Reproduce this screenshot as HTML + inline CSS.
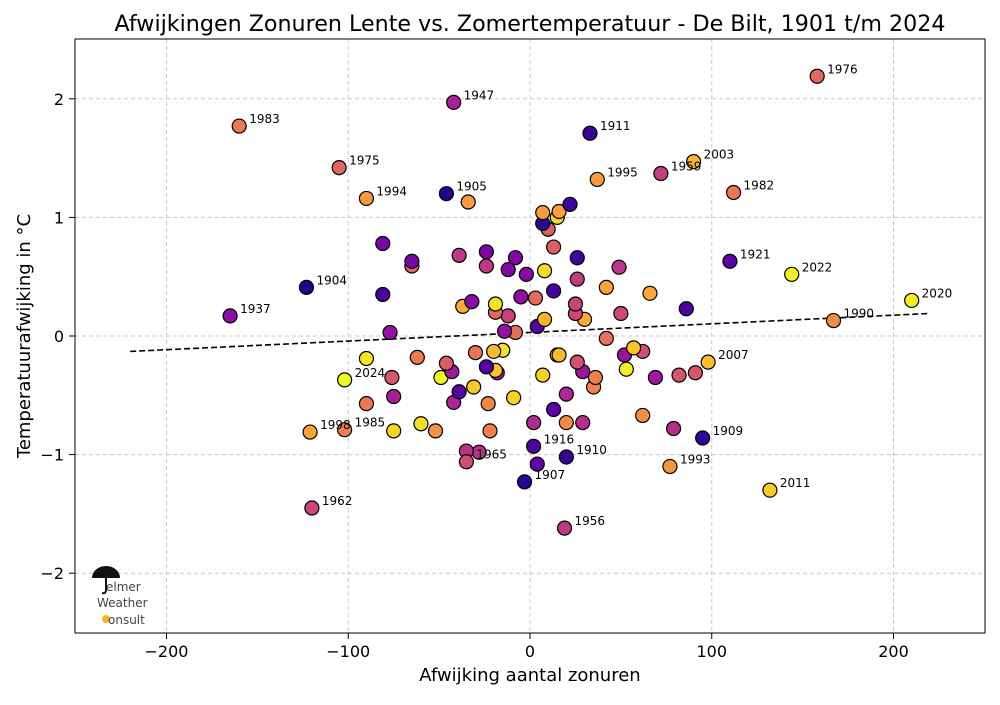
<!DOCTYPE html>
<html><head><meta charset="utf-8"><style>
body{margin:0;background:#fff;font-family:"Liberation Sans","DejaVu Sans",sans-serif}
svg text{font-family:"DejaVu Sans","Liberation Sans",sans-serif}
</style></head><body>
<svg id="chart" width="1000" height="700" xmlns="http://www.w3.org/2000/svg">
<rect width="1000" height="700" fill="#fff"/>
<text x="530" y="31" font-size="22.2" text-anchor="middle">Afwijkingen Zonuren Lente vs. Zomertemperatuur - De Bilt, 1901 t/m 2024</text>
<g id="grid"></g>
<g id="axes"></g>
<line id="trend" stroke="#000" stroke-width="1.6" stroke-dasharray="6,3"/>
<g id="points"></g>
<g id="labels"></g>
<rect x="75" y="39" width="910" height="594" fill="none" stroke="#000" stroke-width="1"/>
<text x="530" y="681" font-size="18" text-anchor="middle">Afwijking aantal zonuren</text>
<text transform="translate(30,336) rotate(-90)" font-size="18" text-anchor="middle">Temperatuurafwijking in °C</text>
<g>
<path d="M92,578 A14,12 0 0 1 120,578 Z" fill="#111"/>
<line x1="106" y1="566" x2="106" y2="590" stroke="#111" stroke-width="2"/>
<path d="M106,590 q0,4 -4,3" fill="none" stroke="#111" stroke-width="2"/>
<text x="106" y="591" font-size="12" fill="#444">elmer</text>
<text x="97" y="607" font-size="12" fill="#444">Weather</text>
<circle cx="106" cy="619" r="4" fill="#f5b820"/>
<text x="108" y="624" font-size="12" fill="#444">onsult</text>
</g>
</svg>
<script>
const xs=[158,-160,-42,33,-105,37,72,90,112,-90,-46,110,144,-123,210,-165,167,-102,98,-121,-102,95,2,-35,20,77,-3,132,-120,19,
-34,22,7,16,15,7,10,13,26,49,-81,-65,-65,-39,-24,-24,-8,-12,-2,8,26,13,42,66,-81,-32,-37,-19,-19,-12,-5,3,25,25,30,50,86,8,4,-77,-14,-8,42,-30,-20,-15,-62,16,15,57,52,62,26,29,36,35,53,69,82,91,-76,-46,-43,-49,-24,-19,-18,7,-75,-39,-42,-31,-23,-9,20,13,2,20,29,62,79,-75,-60,-52,-22,-35,-28,4,-90,-90];
const ys=[2.19,1.77,1.97,1.71,1.42,1.32,1.37,1.47,1.21,1.16,1.20,0.63,0.52,0.41,0.30,0.17,0.13,-0.37,-0.22,-0.81,-0.79,-0.86,-0.93,-1.06,-1.02,-1.10,-1.23,-1.30,-1.45,-1.62,
1.13,1.11,1.04,1.05,1.00,0.95,0.90,0.75,0.66,0.58,0.78,0.63,0.59,0.68,0.71,0.59,0.66,0.56,0.52,0.55,0.48,0.38,0.41,0.36,0.35,0.29,0.25,0.27,0.20,0.17,0.33,0.32,0.27,0.19,0.14,0.19,0.23,0.14,0.08,0.03,0.04,0.03,-0.02,-0.14,-0.13,-0.12,-0.18,-0.16,-0.16,-0.10,-0.16,-0.13,-0.22,-0.30,-0.35,-0.43,-0.28,-0.35,-0.33,-0.31,-0.35,-0.23,-0.30,-0.35,-0.26,-0.29,-0.31,-0.33,-0.51,-0.47,-0.56,-0.43,-0.57,-0.52,-0.49,-0.62,-0.73,-0.73,-0.73,-0.67,-0.78,-0.80,-0.74,-0.80,-0.80,-0.97,-0.98,-1.08,-0.57,-0.19];
const years=[1976,1983,1947,1911,1975,1995,1959,2003,1982,1994,1905,1921,2022,1904,2020,1937,1990,2024,2007,1998,1985,1909,1916,1965,1910,1993,1907,2011,1962,1956,
1995,1912,1996,1997,2016,1908,1972,1973,1913,1955,1930,1931,1974,1956,1932,1957,1933,1934,1935,2015,1958,1914,1999,2000,1915,1936,2001,2017,1977,1960,1938,1978,1961,1963,2002,1964,1917,2004,1918,1939,1940,1979,1980,1981,2005,2018,1984,2006,2019,2008,1941,1966,1967,1942,1986,1987,2021,1943,1968,1969,1970,1971,1944,2023,1919,2009,1945,2012,1946,1920,1948,2010,1988,2013,1949,1922,1950,1989,1951,1991,1952,2014,2016,1992,1986,1953,1954,1923,1983,2019];
const labelCount=30;
const xTicks=[-200,-100,0,100,200];
const yTicks=[-2,-1,0,1,2];
const trendX=[-220,220];
const trendY=[-0.13,0.19];
const X=v=>530+v*1.8175, Y=v=>336-v*118.6;
const NS="http://www.w3.org/2000/svg";
const stops=["#0d0887","#41049d","#6a00a8","#8f0da4","#b12a90","#cc4778","#e16462","#f2844b","#fca636","#fcce25","#f0f921"];
function h2r(h){return [1,3,5].map(i=>parseInt(h.substr(i,2),16));}
function plasma(t){t=Math.max(0,Math.min(1,t));const f=t*10,i=Math.min(9,Math.floor(f)),r=f-i;const a=h2r(stops[i]),b=h2r(stops[i+1]);return "rgb("+a.map((v,k)=>Math.round(v+(b[k]-v)*r)).join(",")+")";}
function mk(tag,attrs,parent){const e=document.createElementNS(NS,tag);for(const k in attrs)e.setAttribute(k,attrs[k]);parent.appendChild(e);return e;}
const grid=document.getElementById('grid'),axes=document.getElementById('axes');
xTicks.forEach(t=>{const x=X(t);
 const g=mk('line',{x1:x,x2:x,y1:39,y2:633,stroke:"#c8c8c8","stroke-dasharray":"4,3"},grid);
 
 
 mk('line',{x1:x,x2:x,y1:633,y2:639,stroke:"#000"},axes);
 const tx=mk('text',{x:x,y:657,"font-size":16,"text-anchor":"middle"},axes);tx.textContent=(t<0?"\u2212"+(-t):t);
 
 
});
yTicks.forEach(t=>{const y=Y(t);
 const g=mk('line',{x1:75,x2:985,y1:y,y2:y,stroke:"#c8c8c8","stroke-dasharray":"4,3"},grid);
 
 
 mk('line',{x1:69,x2:75,y1:y,y2:y,stroke:"#000"},axes);
 const tx=mk('text',{x:64,y:y+6,"font-size":16,"text-anchor":"end"},axes);tx.textContent=(t<0?"\u2212"+(-t):t);
 
 
});
const tr=document.getElementById('trend');
tr.setAttribute('x1',X(trendX[0]));tr.setAttribute('y1',Y(trendY[0]));tr.setAttribute('x2',X(trendX[1]));tr.setAttribute('y2',Y(trendY[1]));
const pts=document.getElementById('points'),lbl=document.getElementById('labels');
const order=xs.map((_,i)=>i).reverse();
order.forEach(i=>{
 const c=mk('circle',{cx:X(xs[i]),cy:Y(ys[i]),r:7,fill:plasma((years[i]-1901)/123),stroke:"#000","stroke-width":1.2},pts);
 
 
});
for(let i=0;i<labelCount;i++){
 const t=mk('text',{x:X(xs[i])+10,y:Y(ys[i])-3,"font-size":12},lbl);t.textContent=years[i];
 
 
}
</script>
</body></html>
